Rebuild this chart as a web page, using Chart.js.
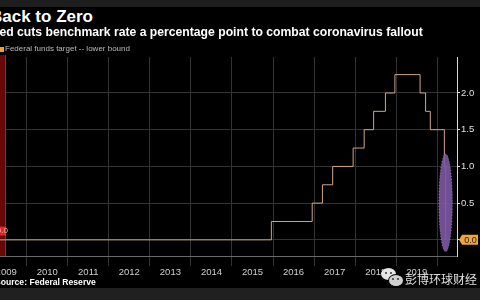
<!DOCTYPE html>
<html><head><meta charset="utf-8">
<script src="https://cdn.jsdelivr.net/npm/chart.js@4"></script>
<style>
html,body{margin:0;padding:0;background:#000;width:480px;height:300px;overflow:hidden;position:relative;font-family:"Liberation Sans",Arial,sans-serif;}
.t{position:absolute;white-space:nowrap;color:#fff;}
#topband{position:absolute;left:0;top:0;width:480px;height:7px;background:#1d1d1d;}
#botband{position:absolute;left:0;top:288px;width:480px;height:12px;background:#202020;}
#c{position:absolute;left:-30px;top:50px;}
.bub{position:absolute;border-radius:50%;background:#e6e6e6;}
.eye{position:absolute;width:2px;height:2px;border-radius:50%;background:#333;}
</style></head>
<body>
<div id="topband"></div>
<div id="botband"></div>
<canvas id="c" width="510" height="240"></canvas>
<div class="t" style="left:-10px;top:7px;font-size:17px;font-weight:bold;">Back to Zero</div>
<div class="t" style="left:-8px;top:25px;font-size:12.2px;font-weight:bold;">Fed cuts benchmark rate a percentage point to combat coronavirus fallout</div>
<div class="t" style="left:0px;top:47px;width:4px;height:5px;background:#f0a030;"></div>
<div class="t" style="left:5px;top:44px;font-size:8px;color:#bbb;">Federal funds target -- lower bound</div>
<div class="t" style="left:-5px;top:277px;font-size:8.6px;font-weight:bold;">Source: Federal Reserve</div>
<div class="bub" style="left:381px;top:268px;width:15px;height:12px;"></div>
<div class="bub" style="left:388px;top:274px;width:14px;height:11px;background:#cfcfcf;border:1px solid #000;"></div>
<div class="eye" style="left:385px;top:272px;"></div><div class="eye" style="left:390px;top:272px;"></div>
<div class="eye" style="left:392px;top:278px;"></div><div class="eye" style="left:397px;top:278px;"></div>
<div class="t" style="left:405px;top:270px;font-size:12px;color:#e0e0e0;font-family:'Noto Sans CJK SC';">彭博环球财经</div>
<script>
// Federal funds target, lower bound (%), effective dates
const rateDates = ['2008-12-16','2015-12-17','2016-12-15','2017-03-16','2017-06-15','2017-12-14','2018-03-22','2018-06-14','2018-09-27','2018-12-20','2019-08-01','2019-09-19','2019-10-31','2020-03-04','2020-03-16'];
const rateValues = [0, 0.25, 0.5, 0.75, 1.0, 1.25, 1.5, 1.75, 2.0, 2.25, 2.0, 1.75, 1.5, 1.0, 0.0];
const yearTicks = [2009,2010,2011,2012,2013,2014,2015,2016,2017,2018,2019,2020];
const yTicks = [0, 0.5, 1.0, 1.5, 2.0];
const lastValueLabel = '0.0';

function decYear(s){
  const d = new Date(s + 'T00:00:00Z');
  const y = d.getUTCFullYear();
  const a = Date.UTC(y,0,1), b = Date.UTC(y+1,0,1);
  return y + (d.getTime() - a) / (b - a);
}
const points = rateDates.map((d,i)=>({x: decYear(d), y: rateValues[i]}));
const X_MIN = 2009.35, X_MAX = 2020.48;

const annot = {
  id:'annot',
  beforeDatasetsDraw(chart){
    const {ctx, chartArea:a, scales:{x}} = chart;
    const xr = x.getPixelForValue(2009.47);
    ctx.save();
    ctx.fillStyle = 'rgba(105,8,8,0.95)';
    ctx.fillRect(a.left - 25, a.top - 2, xr - a.left + 25, a.bottom - a.top + 2);
    ctx.strokeStyle = '#d01818'; ctx.lineWidth = 1;
    ctx.beginPath(); ctx.moveTo(xr+0.5, a.top-2); ctx.lineTo(xr+0.5, a.bottom); ctx.stroke();
    ctx.restore();
  },
  afterDatasetsDraw(chart){
    const {ctx, chartArea:a, scales:{x,y}} = chart;
    ctx.save();
    const xr = x.getPixelForValue(2009.47);
    const ty = y.getPixelForValue(0.12);
    ctx.fillStyle = '#e02828';
    ctx.fillRect(xr - 25, ty - 4.5, 26, 9);
    ctx.fillStyle = '#ffb0b0'; ctx.font = '8px "Liberation Sans"'; ctx.textAlign='right'; ctx.textBaseline='middle';
    ctx.fillText('0.0', xr + 3, ty);
    const cx = x.getPixelForValue(decYear('2020-03-15'));
    const yt = y.getPixelForValue(1.17), yb = y.getPixelForValue(-0.16);
    const rx = x.getPixelForValue(decYear('2020-03-15') + 0.165) - cx;
    ctx.beginPath();
    ctx.ellipse(cx, (yt+yb)/2, rx, (yb-yt)/2, 0, 0, Math.PI*2);
    ctx.fillStyle = 'rgba(125,88,165,0.9)';
    ctx.fill();
    ctx.setLineDash([1,2]); ctx.strokeStyle='rgba(190,160,220,0.6)'; ctx.lineWidth=1; ctx.stroke();
    ctx.restore();
  },
  afterDraw(chart){
    const {ctx, chartArea:a, scales:{y}} = chart;
    const py = y.getPixelForValue(0);
    const lx = a.right + 2;
    ctx.save();
    ctx.fillStyle = '#f2a43a';
    ctx.beginPath();
    ctx.moveTo(lx, py);
    ctx.lineTo(lx+3, py-5);
    ctx.lineTo(lx+19, py-5);
    ctx.lineTo(lx+19, py+5);
    ctx.lineTo(lx+3, py+5);
    ctx.closePath(); ctx.fill();
    ctx.fillStyle = '#222'; ctx.font = '9px "Liberation Sans"'; ctx.textAlign='center'; ctx.textBaseline='middle';
    ctx.fillText(lastValueLabel, lx+11.5, py+0.5);
    ctx.restore();
  }
};

new Chart(document.getElementById('c'), {
  type:'line',
  data:{datasets:[{data: points, borderColor:'#d0a486', borderWidth:1, pointRadius:0, stepped:true, fill:false}]},
  options:{
    responsive:false, animation:false, devicePixelRatio:1,
    layout:{padding:{left:30, top:7, right:0, bottom:0}},
    plugins:{legend:{display:false}, tooltip:{enabled:false}},
    scales:{
      x:{type:'linear', position:'bottom', min:X_MIN, max:X_MAX,
        afterBuildTicks(s){
          const t=[];
          yearTicks.forEach(v=>{ if(v>=X_MIN && v<=X_MAX) t.push({value:v}); if(v+0.5<=X_MAX) t.push({value:v+0.5}); });
          s.ticks = t.sort((p,q)=>p.value-q.value);
        },
        afterFit(s){ s.height = 34; },
        grid:{color:(c)=> (c.tick && c.tick.value%1===0) ? '#333' : 'rgba(0,0,0,0)', tickLength:10, lineWidth:1},
        border:{display:true, color:'#6a6a6a'},
        ticks:{autoSkip:false, maxRotation:0, color:'#cfcfcf', font:{size:9.5, family:'Liberation Sans'}, padding:1,
          callback:(v)=> (v%1!==0) ? String(Math.floor(v)) : ''}
      },
      y:{type:'linear', position:'right', min:-0.22, max:2.49,
        afterBuildTicks(s){ s.ticks = yTicks.map(v=>({value:v})); },
        afterFit(s){ s.width = 23; },
        grid:{color:'#333', tickLength:3, tickColor:'#ddd'},
        border:{display:true, color:'#d8d8d8'},
        ticks:{color:'#e0e0e0', font:{size:9.5, family:'Liberation Sans'}, padding:1,
          callback:(v)=> v===0 ? '' : v.toFixed(1)}
      }
    }
  },
  plugins:[annot]
});
</script>
</body></html>
